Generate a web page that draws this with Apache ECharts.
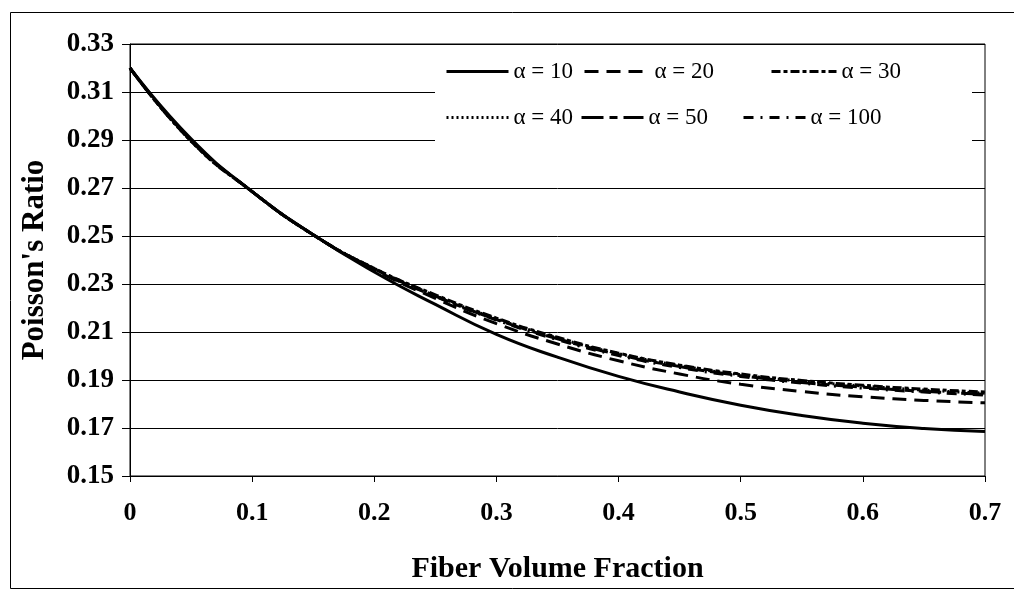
<!DOCTYPE html>
<html>
<head>
<meta charset="utf-8">
<script src="https://cdn.jsdelivr.net/npm/echarts@6/dist/echarts.min.js"></script>
<style>
  html, body { margin: 0; padding: 0; background: #fff; }
  #main { width: 1014px; height: 589px; }
</style>
</head>
<body>
<div id="main"></div>
<script>
// fiber volume fraction
var fraction = [0, 0.05, 0.1, 0.15, 0.2, 0.25, 0.3, 0.35, 0.4, 0.45, 0.5, 0.55, 0.6, 0.65, 0.7];

// poisson's ratio per alpha
var nu10  = [0.320, 0.2905, 0.2685, 0.2505, 0.2350, 0.2215, 0.2090, 0.1995, 0.1915, 0.1850, 0.1795, 0.1752, 0.1720, 0.1698, 0.1685];
var nu20  = [0.320, 0.2900, 0.2685, 0.2505, 0.2360, 0.2240, 0.2135, 0.2050, 0.1980, 0.1925, 0.1882, 0.1852, 0.1830, 0.1815, 0.1805];
var nu30  = [0.320, 0.2895, 0.2685, 0.2505, 0.2365, 0.2255, 0.2158, 0.2078, 0.2012, 0.1962, 0.1925, 0.1898, 0.1878, 0.1862, 0.1850];
var nu40  = [0.320, 0.2895, 0.2685, 0.2505, 0.2365, 0.2252, 0.2155, 0.2075, 0.2010, 0.1960, 0.1922, 0.1895, 0.1875, 0.1858, 0.1845];
var nu50  = [0.320, 0.2898, 0.2685, 0.2505, 0.2363, 0.2250, 0.2152, 0.2072, 0.2006, 0.1956, 0.1918, 0.1890, 0.1870, 0.1853, 0.1840];
var nu100 = [0.320, 0.2898, 0.2685, 0.2505, 0.2362, 0.2248, 0.2150, 0.2068, 0.2002, 0.1952, 0.1915, 0.1887, 0.1866, 0.1850, 0.1837];

var names = ['α = 10', 'α = 20', 'α = 30', 'α = 40', 'α = 50', 'α = 100'];
var values = [nu10, nu20, nu30, nu40, nu50, nu100];
var dashes = ['solid', [14, 8], [9, 3, 4, 3], [2, 3], [22, 6, 8, 6], [10, 7, 2, 7]];

var serif = '"Liberation Serif", "DejaVu Serif", serif';

function pairs(ys) {
  var out = [];
  for (var i = 0; i < fraction.length; i++) out.push([fraction[i], ys[i]]);
  return out;
}

var series = [];
for (var i = 0; i < names.length; i++) {
  series.push({
    name: names[i],
    type: 'line',
    data: pairs(values[i]),
    smooth: true,
    symbol: 'none',
    color: '#000',
    lineStyle: { color: '#000', width: 3, type: dashes[i] },
    z: 10 - i
  });
}

// one legend per entry so the columns sit where the picture has them
var legendSpots = [[445, 60, 62], [583, 60, 65], [770, 60, 65], [445, 106, 62], [580, 106, 62], [742, 106, 62]];
var legends = [];
for (var j = 0; j < names.length; j++) {
  legends.push({
    data: [names[j]],
    left: legendSpots[j][0],
    top: legendSpots[j][1],
    itemWidth: legendSpots[j][2],
    itemHeight: 16,
    padding: 0,
    selectedMode: false,
    itemStyle: { opacity: 0 },
    lineStyle: { width: 3, color: '#000', type: dashes[j] },
    textStyle: { fontFamily: serif, fontSize: 23, color: '#000' }
  });
}

var myChart = echarts.init(document.getElementById('main'));

var option = {
  backgroundColor: '#fff',
  animation: false,
  grid: {
    left: 130, right: 29, top: 44, bottom: 111,
    show: true, borderColor: '#000', borderWidth: 1
  },
  graphic: [
    {
      type: 'rect', left: 8, top: 10, z: 0,
      shape: { width: 1030, height: 576 },
      style: { fill: 'none', stroke: '#000', lineWidth: 1 }
    },
    {
      type: 'rect', left: 435, top: 52, z: 3,
      shape: { width: 537, height: 96 },
      style: { fill: '#fff', stroke: 'none' }
    }
  ],
  legend: legends,
  xAxis: {
    type: 'value',
    min: 0, max: 0.7, interval: 0.1,
    name: 'Fiber Volume Fraction',
    nameLocation: 'middle',
    nameGap: 78,
    nameTextStyle: { fontFamily: serif, fontSize: 30, fontWeight: 'bold', color: '#000' },
    axisLine: { lineStyle: { color: '#000', width: 1 } },
    axisTick: { show: true, length: 6, lineStyle: { color: '#000' } },
    axisLabel: {
      margin: 24, fontFamily: serif, fontSize: 26, fontWeight: 'bold', color: '#000',
      formatter: function (v) { return v === 0 ? '0' : v.toFixed(1); }
    },
    splitLine: { show: false }
  },
  yAxis: {
    type: 'value',
    min: 0.15, max: 0.33, interval: 0.02,
    name: "Poisson's Ratio",
    nameLocation: 'middle',
    nameGap: 80,
    nameTextStyle: { fontFamily: serif, fontSize: 31, fontWeight: 'bold', color: '#000' },
    axisLine: { show: true, lineStyle: { color: '#000', width: 1 } },
    axisTick: { show: true, length: 8, lineStyle: { color: '#000' } },
    axisLabel: {
      margin: 16, fontFamily: serif, fontSize: 27, fontWeight: 'bold', color: '#000',
      formatter: function (v) { return v.toFixed(2); }
    },
    splitLine: { show: true, lineStyle: { color: '#000', width: 1 } }
  },
  series: series
};

myChart.setOption(option);
</script>
</body>
</html>
